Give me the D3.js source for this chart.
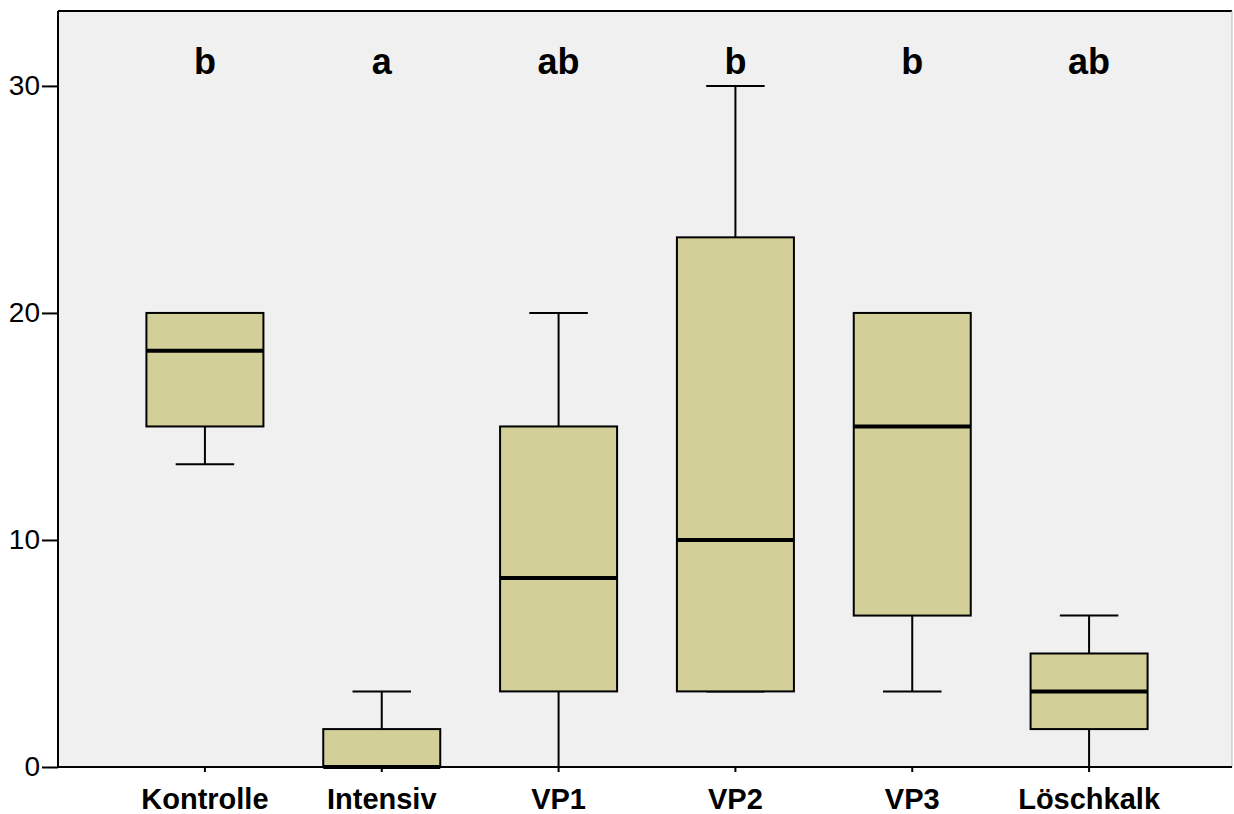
<!DOCTYPE html>
<html><head><meta charset="utf-8">
<script src="https://cdn.jsdelivr.net/npm/d3@7"></script>
<style>html,body{margin:0;padding:0;background:#fff;}svg{display:block;}</style>
</head><body>
<script>
const categories = ["Kontrolle","Intensiv","VP1","VP2","VP3","Löschkalk"];
const whiskerLow = [13.33, 0, 0, 3.33, 3.33, 0];
const q1 = [15, 0, 3.33, 3.33, 6.67, 1.67];
const medians = [18.33, 0, 8.33, 10, 15, 3.33];
const q3 = [20, 1.67, 15, 23.33, 20, 5];
const whiskerHigh = [20, 3.33, 20, 30, 20, 6.67];
const letters = ["b","a","ab","b","b","ab"];
const yTicks = [0, 10, 20, 30];

const W = 1234, H = 814;
const m = {left: 58, right: 2, top: 11, bottom: 47};
const svg = d3.select("body").append("svg").attr("width", W).attr("height", H);
const x = d3.scaleBand().domain(categories).range([116.5, 1177.5]).paddingInner(0).paddingOuter(0);
const y = d3.scaleLinear().domain([0, 33.3]).range([H - m.bottom, m.top]);

svg.append("rect").attr("x", m.left).attr("y", m.top).attr("width", W - m.right - m.left)
  .attr("height", H - m.bottom - m.top).attr("fill", "#f0f0f0");
svg.append("line").attr("x1", m.left).attr("x2", W - m.right).attr("y1", m.top).attr("y2", m.top).attr("stroke", "#000").attr("stroke-width", 2);
svg.append("line").attr("x1", W - m.right).attr("x2", W - m.right).attr("y1", m.top).attr("y2", H - m.bottom).attr("stroke", "#bbb").attr("stroke-width", 1);

const font = "Liberation Sans, Arial, sans-serif";
const boxW = 117;
const capW = boxW / 2;
const fill = "#d3cf99";

const data = categories.map((c, i) => ({c, lo: whiskerLow[i], q1: q1[i], med: medians[i], q3: q3[i], hi: whiskerHigh[i], letter: letters[i]}));
const g = svg.append("g").selectAll("g").data(data).join("g")
  .attr("transform", d => `translate(${x(d.c) + x.bandwidth() / 2},0)`);

g.append("line").attr("y1", d => y(d.hi)).attr("y2", d => y(d.q3)).attr("stroke", "#000").attr("stroke-width", 2);
g.append("line").attr("y1", d => y(d.lo)).attr("y2", d => y(d.q1)).attr("stroke", "#000").attr("stroke-width", 2);
g.append("line").attr("x1", -capW / 2).attr("x2", capW / 2).attr("y1", d => y(d.hi)).attr("y2", d => y(d.hi)).attr("stroke", "#000").attr("stroke-width", 2);
g.append("line").attr("x1", -capW / 2).attr("x2", capW / 2).attr("y1", d => y(d.lo)).attr("y2", d => y(d.lo)).attr("stroke", "#000").attr("stroke-width", 2);
g.append("rect").attr("x", -boxW / 2).attr("width", boxW)
  .attr("y", d => y(d.q3)).attr("height", d => y(d.q1) - y(d.q3))
  .attr("fill", fill).attr("stroke", "#000").attr("stroke-width", 2);
g.append("line").attr("x1", -boxW / 2).attr("x2", boxW / 2).attr("y1", d => y(d.med)).attr("y2", d => y(d.med)).attr("stroke", "#000").attr("stroke-width", 4);
g.append("text").attr("y", 74).attr("text-anchor", "middle").attr("font-family", font)
  .attr("font-weight", "bold").attr("font-size", 36).text(d => d.letter);

const yAxis = svg.append("g").attr("transform", `translate(${m.left},0)`)
  .call(d3.axisLeft(y).tickValues(yTicks).tickSize(16).tickSizeOuter(0).tickPadding(2));
yAxis.select(".domain").attr("stroke", "#000").attr("stroke-width", 2).attr("d", `M0,${m.top}V${H - m.bottom}`);
yAxis.selectAll(".tick line").attr("stroke", "#000").attr("stroke-width", 2);
yAxis.selectAll("text").attr("font-family", font).attr("font-size", 28).attr("fill", "#000");

const xAxis = svg.append("g").attr("transform", `translate(0,${H - m.bottom})`)
  .call(d3.axisBottom(x).tickSize(5).tickSizeOuter(0).tickPadding(16));
xAxis.select(".domain").attr("stroke", "#000").attr("stroke-width", 2).attr("d", `M${m.left},0H${W - m.right}`);
xAxis.selectAll(".tick line").attr("stroke", "#000").attr("stroke-width", 2);
xAxis.selectAll("text").attr("font-family", font).attr("font-size", 29).attr("font-weight", "bold").attr("fill", "#000");
</script>
</body></html>
